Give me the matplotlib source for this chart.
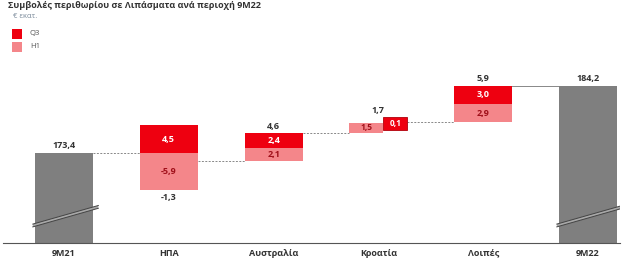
import matplotlib
matplotlib.use("Agg")
import matplotlib.pyplot as plt
from matplotlib.patches import Rectangle, Polygon

plt.rcParams['font.family'] = ['Open Sans', 'DejaVu Sans']

categories = ['9Μ21', 'ΗΠΑ', 'Αυστραλία', 'Κροατία', 'Λοιπές', '9Μ22']
start_total = 173.4
end_total = 184.2
h1_vals = [-5.9, 2.1, 1.5, 2.9]
q3_vals = [4.5, 2.4, 0.1, 3.0]
net_vals = [-1.3, 4.6, 1.7, 5.9]
axis_floor = 158.9

DARK = '#EE0010'
LIGHT = '#F4868A'
GRAY = '#7F7F7F'
TXT = '#333333'
LBL_LIGHT = '#A0101A'

def fmt(v):
    return f"{v:.1f}".replace('.', ',')

W, H = 625, 261
fig = plt.figure(figsize=(W / 100, H / 100), dpi=100)
ax = fig.add_axes([3 / W, 18 / H, (620 - 3) / W, (243 - 60) / H])
step = 104.8
ax.set_xlim((3 - 64) / step, (620 - 64) / step)
ax.set_ylim(axis_floor, axis_floor + (243 - 60) / 6.2)
for s in ['top', 'right', 'left']:
    ax.spines[s].set_visible(False)
ax.spines['bottom'].set_color('#555555')
ax.spines['bottom'].set_linewidth(0.8)
ax.set_yticks([])
ax.set_xticks(range(len(categories)))
ax.set_xticklabels(categories, fontsize=6.5, fontweight='bold', color=TXT)
ax.tick_params(axis='x', length=0, pad=4)

bw = 0.555
n = len(categories)

# totals
for i, val in [(0, start_total), (n - 1, end_total)]:
    ax.bar(i, val - axis_floor, bottom=axis_floor, width=bw, color=GRAY, zorder=2)
    ax.text(i, val + 0.5, fmt(val), ha='center', va='bottom', fontsize=6.5,
            fontweight='bold', color=TXT)
    # axis break marks
    x0, x1 = i - bw / 2 - 0.02, i + bw / 2 + 0.05
    y0, y1 = axis_floor + 2.6, axis_floor + 5.6
    d = 0.45
    ax.add_patch(Polygon([[x0, y0], [x1, y1], [x1, y1 + d], [x0, y0 + d]],
                         closed=True, facecolor='#A8A8A8', edgecolor='none', zorder=3))
    ax.plot([x0, x1], [y0, y1], color='#444444', lw=0.7, zorder=4)
    ax.plot([x0, x1], [y0 + d, y1 + d], color='#444444', lw=0.7, zorder=4)

level = start_total
levels = [level]
for k in range(len(h1_vals)):
    i = k + 1
    h1, q3, net = h1_vals[k], q3_vals[k], net_vals[k]
    if h1 < 0:
        ax.bar(i, h1, bottom=level, width=bw, color=LIGHT, zorder=2)
        ax.bar(i, q3, bottom=level, width=bw, color=DARK, zorder=2)
        ax.text(i, level + h1 / 2, fmt(h1), ha='center', va='center', fontsize=6.5,
                fontweight='bold', color=LBL_LIGHT)
        ax.text(i, level + q3 / 2, fmt(q3), ha='center', va='center', fontsize=6.5,
                fontweight='bold', color='white')
        ax.text(i, level + h1 - 0.5, fmt(net), ha='center', va='top', fontsize=6.5,
                fontweight='bold', color=TXT)
    elif q3 < 0.5:
        lw_ = bw * 0.58
        rw = bw - lw_
        ax.bar(i - bw / 2 + lw_ / 2, h1, bottom=level, width=lw_, color=LIGHT, zorder=2)
        ax.bar(i + bw / 2 - rw / 2, q3, bottom=level + h1, width=rw, color=DARK, zorder=2)
        # callout box for the small Q3 value
        top = level + h1 + q3
        ax.add_patch(Rectangle((i - bw / 2 + lw_, top - 1.2), rw, 2.1,
                               facecolor=DARK, edgecolor='#B0000A', lw=0.6, zorder=3))
        ax.text(i - bw / 2 + lw_ / 2, level + h1 / 2, fmt(h1), ha='center', va='center',
                fontsize=6, fontweight='bold', color=LBL_LIGHT, zorder=5)
        ax.text(i + bw / 2 - rw / 2, top - 0.15, fmt(q3), ha='center', va='center',
                fontsize=6, fontweight='bold', color='white', zorder=5)
        ax.text(i, top + 1.2, fmt(net), ha='center', va='bottom', fontsize=6.5,
                fontweight='bold', color=TXT)
    else:
        ax.bar(i, h1, bottom=level, width=bw, color=LIGHT, zorder=2)
        ax.bar(i, q3, bottom=level + h1, width=bw, color=DARK, zorder=2)
        ax.text(i, level + h1 / 2, fmt(h1), ha='center', va='center', fontsize=6.5,
                fontweight='bold', color=LBL_LIGHT)
        ax.text(i, level + h1 + q3 / 2, fmt(q3), ha='center', va='center', fontsize=6.5,
                fontweight='bold', color='white')
        ax.text(i, level + h1 + q3 + 0.4, fmt(net), ha='center', va='bottom', fontsize=6.5,
                fontweight='bold', color=TXT)
    level = level + net
    levels.append(level)
levels[-1] = end_total

# connectors
for i in range(n - 1):
    y = levels[i]
    ls = '-' if i == n - 2 else (0, (2, 1.5))
    ax.plot([i + bw / 2, i + 1 - bw / 2], [y, y], color='#888888', lw=0.7,
            linestyle=ls, zorder=1)

# header texts
fig.text(8 / W, 1 - 1 / H, 'Συμβολές περιθωρίου σε Λιπάσματα ανά περιοχή 9Μ22',
         ha='left', va='top', fontsize=6.5, fontweight='bold', color='#333333')
fig.text(13 / W, 1 - 16 / H, '€ εκατ.', ha='left', va='center', fontsize=5.5,
         color='#7A8A9A')
fig.add_artist(Rectangle((12 / W, 1 - 39 / H), 10 / W, 10 / H,
                         transform=fig.transFigure, facecolor=DARK, edgecolor='none'))
fig.add_artist(Rectangle((12 / W, 1 - 52 / H), 10 / W, 10 / H,
                         transform=fig.transFigure, facecolor=LIGHT, edgecolor='none'))
fig.text(30 / W, 1 - 34 / H, 'Q3', ha='left', va='center', fontsize=5.5, color='#555555')
fig.text(30 / W, 1 - 47 / H, 'H1', ha='left', va='center', fontsize=5.5, color='#555555')

fig.savefig('out.png', dpi=100)
